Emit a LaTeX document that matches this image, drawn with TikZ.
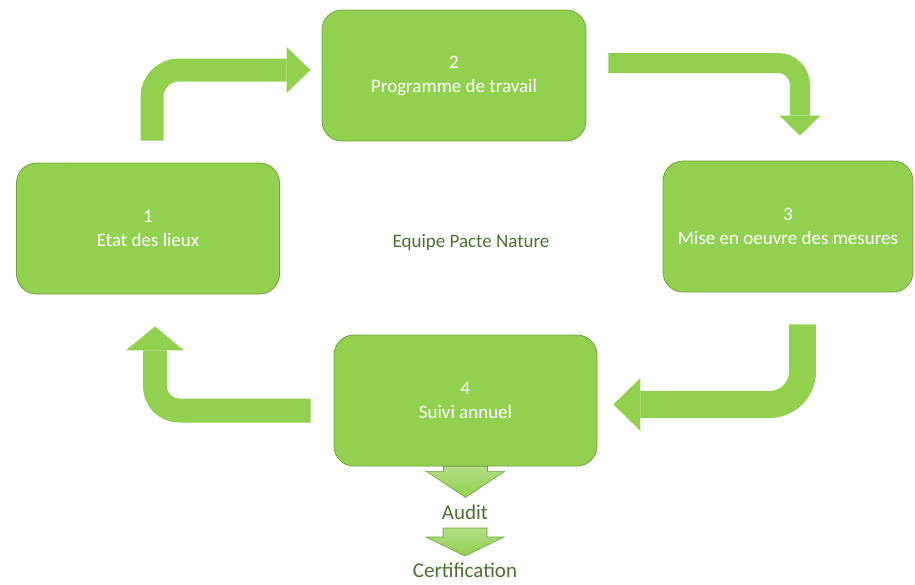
\documentclass[tikz,border=0pt]{standalone}
\usepackage{fontspec}
\setmainfont{Carlito}
\usetikzlibrary{arrows.meta,positioning,calc}
\definecolor{vertclair}{HTML}{92D050}
\definecolor{vertbord}{HTML}{71A23F}
\definecolor{vertfonce}{HTML}{46732E}

\begin{document}
\begin{tikzpicture}[x=1pt,y=-1pt,
    etape/.style={draw=vertbord,line width=0.8pt,fill=vertclair,rounded corners=20pt,
      minimum width=263pt,minimum height=131pt,align=center,text=white,
      font=\fontsize{19}{24}\selectfont},
    legende/.style={text=vertfonce,font=\fontsize{19}{24}\selectfont},
    fleche/.style={draw=vertclair,line cap=butt},
    bloc/.style={draw=vertbord,line width=0.6pt,top color=vertclair!70!white,bottom color=vertclair}]
  \useasboundingbox (0,0) rectangle (915,584);

  \node[etape] (lieux) at (148,228.5) {1\\Etat des lieux};
  \node[etape,minimum width=264pt] (programme) at (454,75.5) {2\\Programme de travail};
  \node[etape,minimum width=250pt] (mesures) at (788,226.5) {3\\Mise en oeuvre des mesures};
  \node[etape] (suivi) at (465.5,400.5) {4\\Suivi annuel};
  \node[legende] (equipe) at (471,242) {Equipe Pacte Nature};
  \node[legende,font=\fontsize{21}{24}\selectfont] (audit) at (465,512) {Audit};
  \node[legende,font=\fontsize{21}{24}\selectfont] (certif) at (465,570.5) {Certification};

  \draw[fleche,line width=23pt,rounded corners=27pt,-{Triangle[length=24pt,width=46pt,line width=0pt]}]
    ([xshift=4pt,yshift=22pt]lieux.north) |- ([xshift=-11pt,yshift=5.5pt]programme.west);
  \draw[fleche,line width=20pt,rounded corners=22pt,-{Triangle[length=20pt,width=41pt,line width=0pt]}]
    ([xshift=22pt,yshift=12.5pt]programme.east) -| ([xshift=12pt,yshift=25pt]mesures.north);
  \draw[fleche,line width=27pt,rounded corners=33pt,-{Triangle[length=27pt,width=53pt,line width=0pt]}]
    ([xshift=14.5pt,yshift=-32pt]mesures.south) |- ([xshift=16pt,yshift=-4pt]suivi.east);
  \draw[fleche,line width=24pt,rounded corners=24pt,-{Triangle[length=24pt,width=58pt,line width=0pt]}]
    ([xshift=-23pt,yshift=-10pt]suivi.west) -| ([xshift=7pt,yshift=-32pt]lieux.south);

  \draw[bloc] ([xshift=-22pt]suivi.south) -- ++(0,5) -- ++(-17,0) -- ++(39,26)
    -- ++(39,-26) -- ++(-17,0) -- ++(0,-5) -- cycle;
  \draw[bloc] ([xshift=-22pt,yshift=-16pt]audit.center) -- ++(0,9) -- ++(-17,0) -- ++(39,19)
    -- ++(39,-19) -- ++(-17,0) -- ++(0,-9) -- cycle;
\end{tikzpicture}
\end{document}
